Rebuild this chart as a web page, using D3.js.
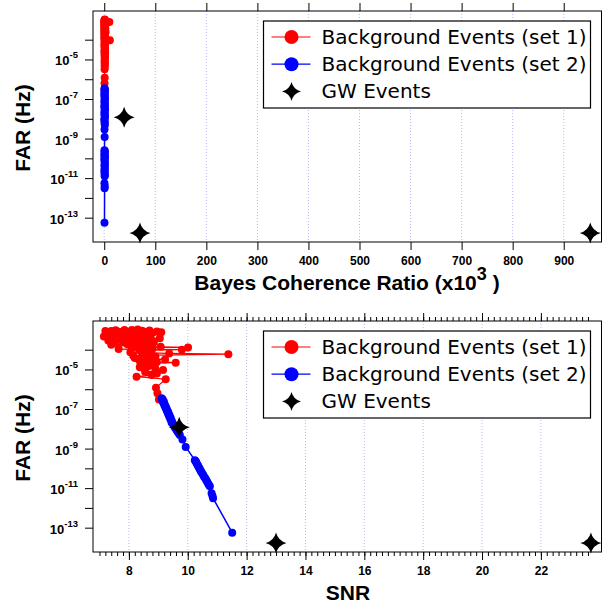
<!DOCTYPE html>
<html>
<head>
<meta charset="utf-8">
<script src="https://cdn.jsdelivr.net/npm/d3@7"></script>
<style>
  body { margin: 0; background: #fff; }
  svg { display: block; }
  .tick text { font-family: "Liberation Sans", Arial, sans-serif; font-weight: bold; font-size: 12px; fill: #000; }
  .lbl { font-family: "Liberation Sans", Arial, sans-serif; font-weight: bold; fill: #000; }
  .leg { font-family: "DejaVu Sans", sans-serif; font-size: 20px; fill: #000; }
</style>
</head>
<body>
<div id="chart"></div>
<script>
// background set 1 (red), sorted by FAR
const set1Far = [1.05e-3, 1.0e-3, 9.8e-4, 9.5e-4, 9.3e-4, 9.1e-4, 8.9e-4, 8.7e-4, 8.5e-4, 8.3e-4,
  8.1e-4, 7.9e-4, 7.8e-4, 7.6e-4, 7.4e-4, 7.1e-4, 6.9e-4, 6.6e-4, 6.3e-4, 6.2e-4,
  5.9e-4, 5.8e-4, 5.5e-4, 5.4e-4, 5.1e-4, 5.0e-4, 4.8e-4, 4.6e-4, 4.4e-4, 4.2e-4,
  4.0e-4, 3.8e-4, 3.6e-4, 3.5e-4, 3.3e-4, 3.2e-4, 3.0e-4, 2.9e-4, 2.75e-4, 2.6e-4,
  2.5e-4, 2.4e-4, 2.3e-4, 2.2e-4, 2.1e-4, 2.0e-4, 1.9e-4, 1.8e-4, 1.65e-4, 1.6e-4,
  1.5e-4, 1.4e-4, 1.3e-4, 1.26e-4, 1.2e-4, 1.1e-4, 1.07e-4, 1.0e-4, 9.3e-5, 8.7e-5,
  8.3e-5, 7.4e-5, 6.9e-5, 6.5e-5, 5.9e-5, 5.2e-5, 4.9e-5, 4.5e-5, 4.2e-5, 3.8e-5,
  3.5e-5, 3.2e-5, 2.9e-5, 2.6e-5, 2.4e-5, 2.2e-5, 2.0e-5, 1.8e-5, 1.6e-5, 1.45e-5,
  1.3e-5, 1.1e-5, 9.3e-6, 7.6e-6, 6.3e-6, 5.2e-6, 4.3e-6, 3.2e-6, 1.2e-6, 6.3e-7,
  3.0e-7];
const set1Snr = [8.30, 8.10, 7.85, 7.55, 8.70, 8.45, 7.40, 7.20, 8.20, 8.95,
  7.65, 7.80, 8.55, 9.10, 8.00, 7.35, 8.80, 8.30, 7.50, 7.95,
  8.40, 8.70, 7.25, 7.60, 8.05, 8.50, 7.75, 7.15, 8.60, 8.15,
  7.45, 9.05, 8.30, 7.70, 8.75, 8.40, 7.90, 7.30, 8.55, 8.00,
  8.25, 8.85, 7.80, 7.50, 8.50, 8.25, 7.95, 7.40, 8.65, 8.60,
  8.20, 9.08, 10.01, 8.45, 8.10, 8.80, 7.65, 9.80, 8.35, 8.60,
  8.75, 8.05, 8.55, 9.37, 11.38, 8.45, 8.15, 8.90, 8.60, 8.20,
  8.70, 9.23, 8.35, 8.60, 8.95, 9.59, 8.55, 8.40, 8.83, 8.65,
  8.37, 8.90, 9.16, 8.55, 8.95, 8.77, 8.26, 9.25, 8.92, 8.97,
  9.02];
const set1Bcr = [1.0, 1.2, 0.6, 0.8, 1.4, 2.0, 0.9, 0.5, 1.7, 1.5,
  1.1, 10.0, 0.7, 0.9, 1.3, 1.8, 0.8, 0.6, 1.6, 2.4,
  0.9, 1.1, 1.2, 0.7, 1.5, 1.9, 0.5, 0.4, 1.0, 1.4,
  0.8, 2.2, 1.2, 0.9, 0.6, 1.6, 1.3, 0.5, 2.0, 1.3,
  0.7, 2.6, 1.0, 0.8, 1.1, 1.7, 0.9, 0.6, 1.4, 1.0,
  0.8, 1.9, 0.7, 1.1, 1.2, 0.9, 0.5, 1.5, 11.0, 1.0,
  0.9, 1.3, 0.8, 2.1, 0.6, 1.4, 0.7, 0.8, 1.2, 1.7,
  0.9, 1.0, 1.3, 0.5, 1.0, 1.8, 0.8, 1.1, 0.7, 1.2,
  1.5, 0.9, 1.2, 0.6, 1.4, 0.8, 1.0, 0.7, 0.9, 0.6,
  0.8];

// background set 2 (blue)
const set2Far = [3.5e-7, 3.0e-7, 2.6e-7, 2.3e-7, 2.0e-7, 1.7e-7, 1.5e-7, 1.26e-7, 1.1e-7, 9.3e-8,
  7.9e-8, 6.8e-8, 5.8e-8, 4.9e-8, 4.2e-8, 3.5e-8, 3.0e-8, 2.5e-8, 2.1e-8, 1.8e-8,
  1.5e-8, 1.26e-8, 1.05e-8, 8.7e-9, 7.2e-9, 6.0e-9, 4.8e-9, 2.9e-9, 1.2e-9, 2.6e-10,
  2.3e-10, 2.0e-10, 1.7e-10, 1.45e-10, 1.23e-10, 1.05e-10, 8.9e-11, 7.6e-11, 6.5e-11, 5.4e-11,
  4.5e-11, 3.7e-11, 3.1e-11, 2.5e-11, 2.1e-11, 1.7e-11, 1.45e-11, 1.26e-11, 5.5e-12, 4.0e-12,
  3.1e-12, 5.6e-14];
const set2Snr = [9.11, 9.15, 9.14, 9.19, 9.17, 9.22, 9.21, 9.26, 9.25, 9.30,
  9.29, 9.34, 9.33, 9.38, 9.37, 9.42, 9.41, 9.46, 9.45, 9.50,
  9.52, 9.55, 9.58, 9.62, 9.65, 9.69, 9.73, 9.82, 9.93, 10.24,
  10.27, 10.29, 10.31, 10.34, 10.36, 10.39, 10.41, 10.44, 10.46, 10.50,
  10.53, 10.56, 10.60, 10.63, 10.66, 10.69, 10.72, 10.75, 10.81, 10.84,
  10.86, 11.51];
const set2Bcr = [0.6, 1.1, 0.3, 1.4, 0.8, 0.2, 1.2, 0.5, 1.5, 0.9,
  0.4, 1.0, 0.7, 1.3, 0.2, 0.8, 1.6, 0.5, 1.1, 0.3,
  0.9, 1.4, 0.6, 0.2, 1.0, 0.7, 1.2, 0.5, 0.8, 0.4,
  1.3, 0.6, 1.0, 0.2, 1.5, 0.8, 0.3, 1.1, 0.7, 1.4,
  0.5, 0.9, 1.2, 0.3, 1.0, 0.6, 1.3, 0.8, 0.4, 1.0,
  0.7, 0.5];

// GW events
const gwFar = [1.2e-8, 1.7e-14, 1.7e-14];
const gwSnr = [9.71, 13.0, 23.7];
const gwBcr = [39, 70, 952];

const bcrTicks = [0, 100, 200, 300, 400, 500, 600, 700, 800, 900];
const snrTicks = [8, 10, 12, 14, 16, 18, 20, 22];
const farExps = [-4, -5, -6, -7, -8, -9, -10, -11, -12, -13];
const farLabelExps = [-5, -7, -9, -11, -13];
const legendLabels = ["Background Events (set 1)", "Background Events (set 2)", "GW Events"];

const width = 602, height = 604;
const left = 93, right = 601.5;

const svg = d3.select("#chart").append("svg")
  .attr("width", width).attr("height", height);

// four pointed star with concave sides
function starPath(R) {
  const c = 0.2 * R;
  const p = d3.path();
  p.moveTo(0, -R);
  p.quadraticCurveTo(c, -c, R, 0);
  p.quadraticCurveTo(c, c, 0, R);
  p.quadraticCurveTo(-c, c, -R, 0);
  p.quadraticCurveTo(-c, -c, 0, -R);
  p.closePath();
  return p.toString();
}

function makeSet(far, xs) {
  return far.map((f, i) => ({ far: f, x: xs[i] }));
}

function drawPanel(cfg) {
  const g = svg.append("g");
  const x = cfg.x;
  const y = d3.scaleLog()
    .domain([Math.pow(10, -2.55), Math.pow(10, -14.23)])
    .range([cfg.top, cfg.bottom]);

  // grid
  g.selectAll(".grid").data(cfg.ticks).enter().append("line")
    .attr("x1", d => x(d)).attr("x2", d => x(d))
    .attr("y1", cfg.top).attr("y2", cfg.bottom)
    .attr("stroke", "#9a9aff").attr("stroke-width", 1)
    .attr("stroke-dasharray", "1,2").attr("opacity", 0.7);

  const line = d3.line().x(d => x(d.x)).y(d => y(d.far));
  const series = [
    { data: makeSet(set1Far, cfg.s1), color: "#ff0000", w: 1.2 },
    { data: makeSet(set2Far, cfg.s2), color: "#0000ff", w: 1.5 }
  ];
  series.forEach(s => {
    g.append("path").datum(s.data)
      .attr("d", line).attr("fill", "none")
      .attr("stroke", s.color).attr("stroke-width", s.w);
    g.selectAll(null).data(s.data).enter().append("circle")
      .attr("cx", d => x(d.x)).attr("cy", d => y(d.far))
      .attr("r", 4).attr("fill", s.color);
  });

  g.selectAll(".gw").data(makeSet(gwFar, cfg.gw)).enter().append("path")
    .attr("d", starPath(10.5))
    .attr("transform", d => `translate(${x(d.x)},${y(d.far)})`)
    .attr("fill", "#000");

  // frame
  g.append("rect")
    .attr("x", left).attr("y", cfg.top)
    .attr("width", right - left).attr("height", cfg.bottom - cfg.top)
    .attr("fill", "none").attr("stroke", "#000").attr("stroke-width", 1);

  // x axes
  const top = g.append("g").attr("transform", `translate(0,${cfg.top})`);
  const bot = g.append("g").attr("transform", `translate(0,${cfg.bottom})`);
  if (cfg.minor) {
    top.append("g").call(d3.axisTop(x).tickValues(cfg.minor).tickSize(4).tickFormat(""));
    bot.append("g").call(d3.axisBottom(x).tickValues(cfg.minor).tickSize(4).tickFormat(""));
  }
  top.append("g").call(d3.axisTop(x).tickValues(cfg.ticks).tickSize(8).tickFormat(""));
  bot.append("g").call(d3.axisBottom(x).tickValues(cfg.ticks).tickSize(8).tickPadding(6));
  g.selectAll(".domain").remove();

  // y axis
  const ya = g.append("g").attr("transform", `translate(${left},0)`)
    .call(d3.axisLeft(y).tickValues(farExps.map(e => Math.pow(10, e))).tickSize(8).tickFormat(""));
  ya.select(".domain").remove();
  farLabelExps.forEach(e => {
    const t = g.append("text").attr("class", "lbl")
      .attr("x", 78).attr("y", y(Math.pow(10, e)) + 6)
      .attr("text-anchor", "end").style("font-size", "13px");
    t.append("tspan").text("10");
    t.append("tspan").attr("dy", -7).style("font-size", "9.5px").text(e);
  });
  g.selectAll(".tick line").attr("stroke", "#000");

  // y title
  g.append("text").attr("class", "lbl")
    .attr("transform", `translate(30,${(cfg.top + cfg.bottom) / 2 + 1.5}) rotate(-90)`)
    .attr("text-anchor", "middle").style("font-size", "21px")
    .text("FAR (Hz)");

  // legend
  const lg = g.append("g").attr("transform", `translate(263.5,${cfg.top + 10})`);
  lg.append("rect").attr("width", 327).attr("height", 87)
    .attr("fill", "#fff").attr("stroke", "#000").attr("stroke-width", 1.2);
  const colors = ["#ff0000", "#0000ff"];
  legendLabels.forEach((lab, i) => {
    const cy = 16 + i * 27.2;
    if (i < 2) {
      lg.append("line").attr("x1", 8).attr("x2", 47).attr("y1", cy).attr("y2", cy)
        .attr("stroke", colors[i]).attr("stroke-width", 1.2);
      lg.append("circle").attr("cx", 28).attr("cy", cy).attr("r", 7).attr("fill", colors[i]);
    } else {
      lg.append("path").attr("d", starPath(9.5)).attr("transform", `translate(28,${cy})`).attr("fill", "#000");
    }
    lg.append("text").attr("class", "leg").attr("x", 58).attr("y", cy + 7).text(lab);
  });
  return g;
}

const xBcr = d3.scaleLinear().domain([-22, 974]).range([left, right]);
const xSnr = d3.scaleLinear().domain([6.78, 24.06]).range([left, right]);

drawPanel({ top: 11, bottom: 242, x: xBcr, ticks: bcrTicks, s1: set1Bcr, s2: set2Bcr, gw: gwBcr });
drawPanel({ top: 321, bottom: 552, x: xSnr, ticks: snrTicks, s1: set1Snr, s2: set2Snr, gw: gwSnr,
  minor: d3.range(70, 237, 2).map(v => v / 10) });

// x titles
const bt = svg.append("text").attr("class", "lbl")
  .attr("x", 347).attr("y", 290).attr("text-anchor", "middle").style("font-size", "21px");
bt.append("tspan").text("Bayes Coherence Ratio (x10");
bt.append("tspan").attr("dy", -10).style("font-size", "18px").text("3");
bt.append("tspan").attr("dy", 10).text("\u00a0)");

svg.append("text").attr("class", "lbl")
  .attr("x", 348).attr("y", 600).attr("text-anchor", "middle").style("font-size", "21px")
  .text("SNR");
</script>
</body>
</html>
